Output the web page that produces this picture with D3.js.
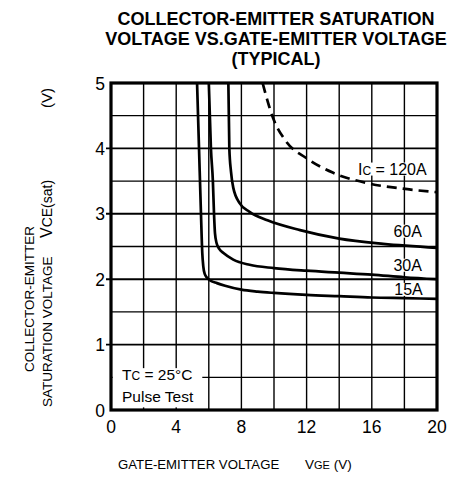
<!DOCTYPE html>
<html><head><meta charset="utf-8">
<script src="https://cdn.jsdelivr.net/npm/d3@7"></script>
<style>body{margin:0;background:#fff}svg{display:block}text{white-space:pre}</style>
</head><body>
<svg id="c" width="456" height="478"></svg>
<script>
const titleLines = ["COLLECTOR-EMITTER SATURATION", "VOLTAGE VS.GATE-EMITTER VOLTAGE", "(TYPICAL)"];
const xTicks = [0, 4, 8, 12, 16, 20];
const yTicks = [0, 1, 2, 3, 4, 5];
const xGrid = [2, 4, 6, 8, 10, 12, 14, 16, 18];
const yGrid = [0.5, 1, 1.5, 2, 2.5, 3, 3.5, 4, 4.5];

const vge15 = [5.28, 5.4, 5.52, 5.6, 5.66, 5.75, 5.9, 6.1, 6.5, 7, 8, 9, 10, 12, 14, 16, 18, 20];
const vce15 = [5.0, 4.0, 3.0, 2.4, 2.2, 2.08, 2.02, 1.98, 1.94, 1.9, 1.84, 1.81, 1.79, 1.76, 1.74, 1.72, 1.71, 1.70];
const vge30 = [6.0, 6.13, 6.25, 6.32, 6.38, 6.48, 6.65, 6.9, 7.5, 8.5, 10, 12, 14, 16, 18, 20];
const vce30 = [5.0, 4.0, 3.5, 3.0, 2.7, 2.55, 2.46, 2.4, 2.3, 2.22, 2.17, 2.13, 2.1, 2.07, 2.03, 2.0];
const vge60 = [7.2, 7.26, 7.36, 7.5, 7.9, 8.5, 9.6, 11.6, 14.0, 16.7, 20];
const vce60 = [5.0, 4.0, 3.65, 3.4, 3.16, 3.03, 2.9, 2.75, 2.62, 2.54, 2.48];
const vge120 = [9.3, 9.95, 10.7, 12.0, 13.6, 15.7, 17.7, 20];
const vce120 = [5.0, 4.46, 4.12, 3.85, 3.63, 3.47, 3.39, 3.33];

const seriesNames = ["15A", "30A", "60A", "Ic = 120A"];

const svg = d3.select("#c");
const m = {l: 111, r: 437, t: 83, b: 410};
const x = d3.scaleLinear().domain([0, 20]).range([m.l, m.r]);
const y = d3.scaleLinear().domain([0, 5]).range([m.b, m.t]);
const font = "Liberation Sans, Arial, Helvetica, sans-serif";

// title
svg.append("g").selectAll("text").data(titleLines).join("text")
  .attr("x", 276).attr("y", (d, i) => 25 + i * 20)
  .attr("text-anchor", "middle").attr("font-family", font)
  .attr("font-weight", "bold").attr("font-size", 18).text(d => d);

// grid
const g = svg.append("g");
g.selectAll("line.vx").data(xGrid).join("line")
  .attr("x1", d => x(d)).attr("x2", d => x(d)).attr("y1", m.t).attr("y2", m.b)
  .attr("stroke", "#000").attr("stroke-width", 1.4);
g.selectAll("line.hy").data(yGrid).join("line")
  .attr("x1", d => Number.isInteger(d) ? m.l - 5 : m.l).attr("x2", m.r)
  .attr("y1", d => y(d)).attr("y2", d => y(d))
  .attr("stroke", "#000").attr("stroke-width", d => Number.isInteger(d) ? 1.9 : 1.3);

// clip
svg.append("clipPath").attr("id", "clip").append("rect")
  .attr("x", m.l).attr("y", m.t).attr("width", m.r - m.l).attr("height", m.b - m.t);

const line = d3.line().x(d => x(d[0])).y(d => y(d[1])).curve(d3.curveMonotoneX);
const series = [
  {xs: vge15, ys: vce15, dash: null},
  {xs: vge30, ys: vce30, dash: null},
  {xs: vge60, ys: vce60, dash: null},
  {xs: vge120, ys: vce120, dash: "10,6"}
];
svg.append("g").attr("clip-path", "url(#clip)").selectAll("path").data(series).join("path")
  .attr("d", s => line(s.xs.map((v, i) => [v, s.ys[i]])))
  .attr("fill", "none").attr("stroke", "#000").attr("stroke-width", 2.7)
  .attr("stroke-dasharray", s => s.dash);

// labels with white background
const labels = [
  {pre: "I", sub: "C", post: " = 120A", x: 15.15, y: 3.6, anchor: "start"},
  {pre: "60A", x: 18.2, y: 2.65, anchor: "middle"},
  {pre: "30A", x: 18.2, y: 2.13, anchor: "middle"},
  {pre: "15A", x: 18.25, y: 1.76, anchor: "middle"}
];
const lg = svg.append("g");
labels.forEach(L => {
  const t = lg.append("text").attr("x", x(L.x)).attr("y", y(L.y))
    .attr("text-anchor", L.anchor).attr("font-family", font).attr("font-size", 16);
  t.append("tspan").text(L.pre);
  if (L.sub) {
    t.append("tspan").attr("font-size", 12).text(L.sub);
    t.append("tspan").text(L.post);
  }
  const b = t.node().getBBox();
  lg.insert("rect", "text").attr("x", b.x - 1).attr("y", b.y + 2).attr("width", b.width + 2).attr("height", b.height - 4).attr("fill", "#fff");
});

// condition box
svg.append("rect").attr("x", x(0.1)).attr("y", y(0.64)).attr("width", x(5.6) - x(0.1)).attr("height", y(0.04) - y(0.64)).attr("fill", "#fff");
const cond = svg.append("g").attr("font-family", font).attr("font-size", 15.5);
const t1 = cond.append("text").attr("x", 122).attr("y", 380);
t1.append("tspan").text("T");
t1.append("tspan").attr("font-size", 12).text("C");
t1.append("tspan").text(" = 25°C");
cond.append("text").attr("x", 122).attr("y", 402).text("Pulse Test");

// border
svg.append("rect").attr("x", m.l).attr("y", m.t).attr("width", m.r - m.l).attr("height", m.b - m.t)
  .attr("fill", "none").attr("stroke", "#000").attr("stroke-width", 3.2);

// ticks
svg.append("g").selectAll("text").data(xTicks).join("text")
  .attr("x", d => x(d)).attr("y", 433).attr("text-anchor", "middle")
  .attr("font-family", font).attr("font-size", 17.5).text(d => d);
svg.append("g").selectAll("text").data(yTicks).join("text")
  .attr("x", 105).attr("y", d => y(d) + 6.5).attr("text-anchor", "end")
  .attr("font-family", font).attr("font-size", 17.5).text(d => d);

// x title
svg.append("text").attr("x", 118).attr("y", 469).attr("font-family", font).attr("font-size", 13.2)
  .text("GATE-EMITTER VOLTAGE");
const xt = svg.append("text").attr("x", 305).attr("y", 469).attr("font-family", font).attr("font-size", 13.5);
xt.append("tspan").text("V");
xt.append("tspan").attr("font-size", 11).text("GE");
xt.append("tspan").text(" (V)");

// y title
svg.append("text").attr("transform", "translate(34,299) rotate(-90)")
  .attr("text-anchor", "middle").attr("font-family", font).attr("font-size", 13.5).text("COLLECTOR-EMITTER");
svg.append("text").attr("transform", "translate(52,407) rotate(-90)")
  .attr("font-family", font).attr("font-size", 13.5).text("SATURATION VOLTAGE");
const yt2 = svg.append("text").attr("transform", "translate(52,238) rotate(-90)")
  .attr("font-family", font).attr("font-size", 16);
yt2.append("tspan").text("V");
yt2.append("tspan").attr("font-size", 14).text("CE(sat)");
svg.append("text").attr("transform", "translate(52,88) rotate(-90)")
  .attr("text-anchor", "end").attr("font-family", font).attr("font-size", 15).text("(V)");
</script>
</body></html>
